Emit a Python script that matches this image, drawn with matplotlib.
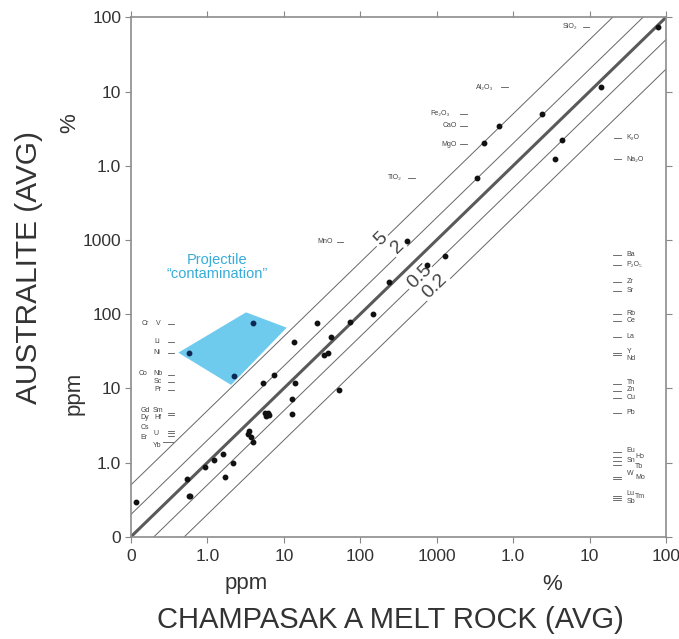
import numpy as np
import matplotlib
matplotlib.use("Agg")
import matplotlib.pyplot as plt
import matplotlib.transforms as mtransforms
from matplotlib.patches import Polygon
from matplotlib.ticker import NullLocator

plt.rcParams['font.family'] = ['Liberation Sans', 'DejaVu Sans']

# ---------------- data (all plotted in ppm; majors given in wt%) ----------------
trace_x = [0.116, 0.544, 0.579, 0.60, 0.916, 1.23, 1.60, 1.70, 2.14, 3.45, 3.43, 3.72,
           3.95, 5.68, 6.21, 5.85, 6.40, 5.40, 7.52, 12.7, 12.7, 13.7, 14.0, 27.0,
           40.8, 38.3, 33.6, 52.7, 72.9, 146, 240, 406, 755, 1277]
trace_y = [0.298, 0.594, 0.352, 0.355, 0.861, 1.09, 1.29, 0.647, 1.00, 2.66, 2.42, 2.23,
           1.89, 4.64, 4.64, 4.24, 4.37, 11.8, 15.0, 7.23, 4.47, 41.7, 11.9, 75.2,
           49.5, 29.6, 27.7, 9.57, 79.1, 99.8, 272, 973, 459, 612]
major_names = ["TiO2", "MgO", "CaO", "Fe2O3", "Al2O3", "K2O", "Na2O", "SiO2"]
major_x_pct = [0.34, 0.41, 0.66, 2.4, 14.1, 4.4, 3.5, 78]
major_y_pct = [0.69, 2.0, 3.4, 5.0, 11.6, 2.2, 1.24, 73]
proj_x = [0.579, 2.21, 3.92]
proj_y = [29.9, 14.8, 75.2]
hull_x = [0.416, 3.20, 10.9, 2.04]
hull_y = [30.2, 105.6, 65.6, 11.1]
ratios = [5, 2, 1, 0.5, 0.2]
ratio_labels = ["5", "2", None, "0.5", "0.2"]
ratio_label_x = [185, 306, None, 594, 953]
ratio_label_y = [1018, 794, None, 319, 239]
tick_values = [0.1, 1, 10, 100, 1000, 1e4, 1e5, 1e6]
tick_labels = ['0', '1.0', '10', '100', '1000', '1.0', '10', '100']

# element labels: (text, x axes-fraction, y ppm)
left_text = [("Cr", 0.0275, 74.3), ("V", 0.051, 74.3), ("Li", 0.049, 42.1),
             ("Ni", 0.049, 30.2), ("Co", 0.023, 15.7), ("Nb", 0.050, 15.7),
             ("Sc", 0.050, 12.3), ("Pr", 0.050, 9.49), ("Gd", 0.026, 4.98),
             ("Sm", 0.051, 4.98), ("Dy", 0.026, 3.98), ("Hf", 0.051, 3.98),
             ("Cs", 0.026, 2.98), ("U", 0.047, 2.47), ("Er", 0.025, 2.16),
             ("Yb", 0.049, 1.72)]
left_dash_y = [74.3, 42.1, 30.2, 15.1, 12.3, 9.49, 4.65, 4.43, 2.69, 2.48, 2.27]
yb_dash_y = 1.87

right_dash_y = [627, 459, 274, 205, 100, 80.7, 49.5, 29.6, 27.9, 11.4, 9.12, 7.40, 4.60,
                1.38, 1.20, 1.05, 0.916, 0.644, 0.594, 0.354, 0.333, 0.310]
right_text = [("Ba", 0.9265, 627), ("P\u2082O\u2085", 0.9265, 459), ("Zr", 0.9265, 274),
              ("Sr", 0.9265, 205), ("Rb", 0.9265, 103), ("Ce", 0.9265, 82),
              ("La", 0.9265, 49.5), ("Y", 0.9265, 31.2), ("Nd", 0.9265, 25.3),
              ("Th", 0.9265, 12.0), ("Zn", 0.9265, 9.5), ("Cu", 0.9265, 7.5),
              ("Pb", 0.9265, 4.7), ("Eu", 0.9265, 1.46), ("Sn", 0.9265, 1.07),
              ("Ho", 0.942, 1.20), ("Tb", 0.942, 0.88), ("W", 0.9265, 0.72),
              ("Mo", 0.942, 0.625), ("Lu", 0.9265, 0.378), ("Sb", 0.9265, 0.298),
              ("Tm", 0.942, 0.346)]

# oxide labels: (text, text x, dash x0, dash x1, y ppm, side)
oxide_labels = [("SiO\u2082", 0.8336, 0.845, 0.856, 746000, "left"),
                ("Al\u2082O\u2083", 0.677, 0.6916, 0.7052, 114000, "left"),
                ("Fe\u2082O\u2083", 0.596, 0.615, 0.6275, 49800, "left"),
                ("CaO", 0.609, 0.615, 0.6275, 34300, "left"),
                ("MgO", 0.609, 0.615, 0.6275, 19600, "left"),
                ("TiO\u2082", 0.506, 0.518, 0.531, 6900, "left"),
                ("MnO", 0.378, 0.3845, 0.3957, 938, "left"),
                ("K\u2082O", 0.9265, 0.903, 0.915, 23800, "right"),
                ("Na\u2082O", 0.9265, 0.903, 0.915, 12300, "right")]

W, H = 679, 639
fig = plt.figure(figsize=(W / 100, H / 100), dpi=100)
ax = fig.add_axes([131 / W, 1 - 536.7 / H, 535 / W, 519.4 / H])
ax.set_xscale('log')
ax.set_yscale('log')
ax.set_xlim(tick_values[0], tick_values[-1])
ax.set_ylim(tick_values[0], tick_values[-1])
ax.set_xticks(tick_values)
ax.set_xticklabels(tick_labels)
ax.set_yticks(tick_values)
ax.set_yticklabels(tick_labels)
ax.xaxis.set_minor_locator(NullLocator())
ax.yaxis.set_minor_locator(NullLocator())
ax.tick_params(which='major', direction='out', length=4, width=0.8, color='#888888',
               labelsize=12.5, labelcolor='#333333', top=True, right=True)
ax.tick_params(axis='y', pad=3)
ax.tick_params(axis='x', pad=5)
for s in ax.spines.values():
    s.set_color('#8c8c8c')
    s.set_linewidth(1.2)

# ratio lines
xe = np.array([1e-3, 1e8])
for k in ratios:
    if k == 1:
        ax.plot(xe, k * xe, color='#5a5a5a', lw=2.2, zorder=2, solid_capstyle='butt')
    else:
        ax.plot(xe, k * xe, color='#666666', lw=0.7, zorder=2)

# label rotation from display slope
fig.canvas.draw()
p1 = ax.transData.transform((1, 1))
p2 = ax.transData.transform((10, 10))
ang = np.degrees(np.arctan2(p2[1] - p1[1], p2[0] - p1[0]))
for lab, lx, ly in zip(ratio_labels, ratio_label_x, ratio_label_y):
    if lab is None:
        continue
    ax.text(lx, ly, lab, rotation=ang, rotation_mode='anchor', ha='center', va='center',
            fontsize=14, color='#444444', zorder=3,
            bbox=dict(boxstyle='square,pad=0.12', fc='white', ec='none'))

# projectile field
poly = Polygon(list(zip(hull_x, hull_y)), closed=True, fc='#6fcbee', ec='none', zorder=1)
ax.add_patch(poly)
ax.text(1.33, 432, "Projectile\n\u201ccontamination\u201d", ha='center', va='center',
        fontsize=10.5, color='#36acd8', linespacing=1.05, zorder=3)

# data points
ax.plot(trace_x, trace_y, 'o', color='#111111', ms=3.2, zorder=4, ls='none')
ax.plot(np.array(major_x_pct) * 1e4, np.array(major_y_pct) * 1e4, 'o', color='#111111',
        ms=3.2, zorder=4, ls='none')
ax.plot(proj_x, proj_y, 'o', color='#0d2a55', ms=3.2, zorder=4, ls='none')

# element labels
blend = mtransforms.blended_transform_factory(ax.transAxes, ax.transData)
small = dict(fontsize=5.0, color='#444444', transform=blend, va='center', zorder=3)
dash_kw = dict(color='#555555', lw=0.6, transform=blend, zorder=3)
for t, x, y in left_text:
    ax.text(x, y, t, ha='center', **small)
for y in left_dash_y:
    ax.plot([0.069, 0.080], [y, y], **dash_kw)
ax.plot([0.060, 0.078], [yb_dash_y, yb_dash_y], **dash_kw)
for y in right_dash_y:
    ax.plot([0.9015, 0.9153], [y, y], **dash_kw)
for t, x, y in right_text:
    ax.text(x, y, t, ha='left', **small)
for t, tx, d0, d1, y, side in oxide_labels:
    ax.text(tx, y, t, ha='right' if side == 'left' else 'left', **small)
    ax.plot([d0, d1], [y, y], **dash_kw)

# axis titles
def ftxt(x, y, s, **kw):
    fig.text(x / W, 1 - y / H, s, ha='center', va='center', color='#333333', **kw)

ftxt(390, 620, "CHAMPASAK A MELT ROCK (AVG)", fontsize=21)
ftxt(29, 267, "AUSTRALITE (AVG)", fontsize=21.5, rotation=90)
ftxt(246, 584, "ppm", fontsize=16)
ftxt(552, 584, "%", fontsize=16)
ftxt(70, 123, "%", fontsize=16, rotation=90)
ftxt(74, 393, "ppm", fontsize=16, rotation=90)

fig.savefig("out.png", dpi=100, facecolor='white')
